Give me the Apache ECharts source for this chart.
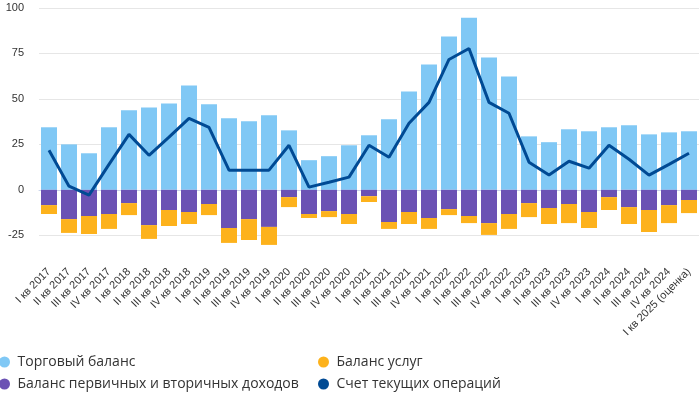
<!DOCTYPE html>
<html><head><meta charset="utf-8">
<script src="https://cdn.jsdelivr.net/npm/echarts@6/dist/echarts.min.js"></script>
<style>html,body{margin:0;padding:0;background:#fff}#c{width:700px;height:393px}</style>
</head><body><div id="c"></div>
<script>
var categories = ['I кв 2017','II кв 2017','III кв 2017','IV кв 2017','I кв 2018','II кв 2018','III кв 2018','IV кв 2018','I кв 2019','II кв 2019','III кв 2019','IV кв 2019','I кв 2020','II кв 2020','III кв 2020','IV кв 2020','I кв 2021','II кв 2021','III кв 2021','IV кв 2021','I кв 2022','II кв 2022','III кв 2022','IV кв 2022','I кв 2023','II кв 2023','III кв 2023','IV кв 2023','I кв 2024','II кв 2024','III кв 2024','IV кв 2024','I кв 2025 (оценка)'];
var tradeBalance = [34.4,25.0,20.1,34.4,43.7,45.3,47.5,57.4,47.0,39.3,37.7,41.0,32.7,16.3,18.5,24.5,30.0,38.8,54.1,68.9,84.3,94.7,72.8,62.3,29.4,26.2,33.3,32.2,34.4,35.5,30.5,31.6,32.2];
var incomeBalance = [-8.4,-16.1,-14.4,-13.3,-7.3,-19.4,-11.1,-12.2,-7.8,-21.0,-16.1,-20.4,-4.0,-13.3,-11.7,-13.3,-3.5,-17.7,-12.2,-15.5,-10.6,-14.4,-18.3,-13.3,-7.3,-10.0,-7.8,-12.2,-4.0,-9.5,-11.1,-8.4,-5.6];
var servicesBalance = [-4.9,-7.6,-9.9,-8.2,-6.6,-7.6,-8.8,-6.6,-6.1,-8.2,-11.5,-9.9,-5.5,-2.2,-3.3,-5.5,-3.2,-3.8,-6.6,-6.0,-3.3,-3.9,-6.5,-8.2,-7.7,-8.8,-10.5,-8.8,-7.1,-9.3,-12.1,-9.9,-7.2];
var currentAccount = [21.8,2.0,-2.9,14.0,30.5,19.0,29.0,39.3,34.4,10.8,10.8,10.8,24.5,1.5,4.2,7.0,24.5,17.9,36.6,48.1,71.7,77.7,48.1,42.1,15.2,8.1,15.7,11.9,24.5,16.8,8.1,14.0,20.1];
var yTickLabels = ['-25','0','25','50','75','100'];

var FONT = 'Liberation Sans, Arial, sans-serif';
var LEGEND_FONT = 'Open Sans, sans-serif';
var names = ['Торговый баланс','Баланс услуг','Баланс первичных и вторичных доходов','Счет текущих операций'];
var legendCommon = {orient: 'vertical', top: 355, padding: 0, icon: 'circle', itemWidth: 16, itemHeight: 11, itemGap: 8,
  textStyle: {fontSize: 14, color: '#333', fontFamily: LEGEND_FONT}};
var chart = echarts.init(document.getElementById('c'));
chart.setOption({
  animation: false,
  textStyle: {fontFamily: FONT},
  grid: {left: 39, right: 1, top: 8, bottom: 135},
  legend: [
    Object.assign({data: [names[0], names[2]], left: -1}, legendCommon),
    Object.assign({data: [names[1], names[3]], left: 318}, legendCommon)
  ],
  xAxis: {
    type: 'category', data: categories,
    axisTick: {show: false},
    axisLine: {lineStyle: {color: '#ccd6eb'}},
    axisLabel: {rotate: 45, interval: 0, fontSize: 11, color: '#333', margin: 12, fontFamily: FONT}
  },
  yAxis: {
    type: 'value', min: -37.5, max: 100, interval: 12.5,
    axisLine: {show: false}, axisTick: {show: false},
    axisLabel: {fontSize: 11, color: '#333', margin: 15, fontFamily: FONT,
      formatter: function (v) { var s = String(v); return yTickLabels.indexOf(s) >= 0 ? s : ''; }},
    splitLine: {lineStyle: {color: ['rgba(0,0,0,0)', '#e6e6e6']}}
  },
  series: [
    {name: names[0], type: 'bar', stack: 'a', data: tradeBalance, barWidth: 16, itemStyle: {color: '#80c8f5'}},
    {name: names[2], type: 'bar', stack: 'a', data: incomeBalance, barWidth: 16, itemStyle: {color: '#6b52b4'}},
    {name: names[1], type: 'bar', stack: 'a', data: servicesBalance, barWidth: 16, itemStyle: {color: '#fdb21c'}},
    {name: names[3], type: 'line', data: currentAccount, symbol: 'none', lineStyle: {width: 3, color: '#004a94'}, itemStyle: {color: '#004a94'}, z: 5}
  ]
});
</script></body></html>
